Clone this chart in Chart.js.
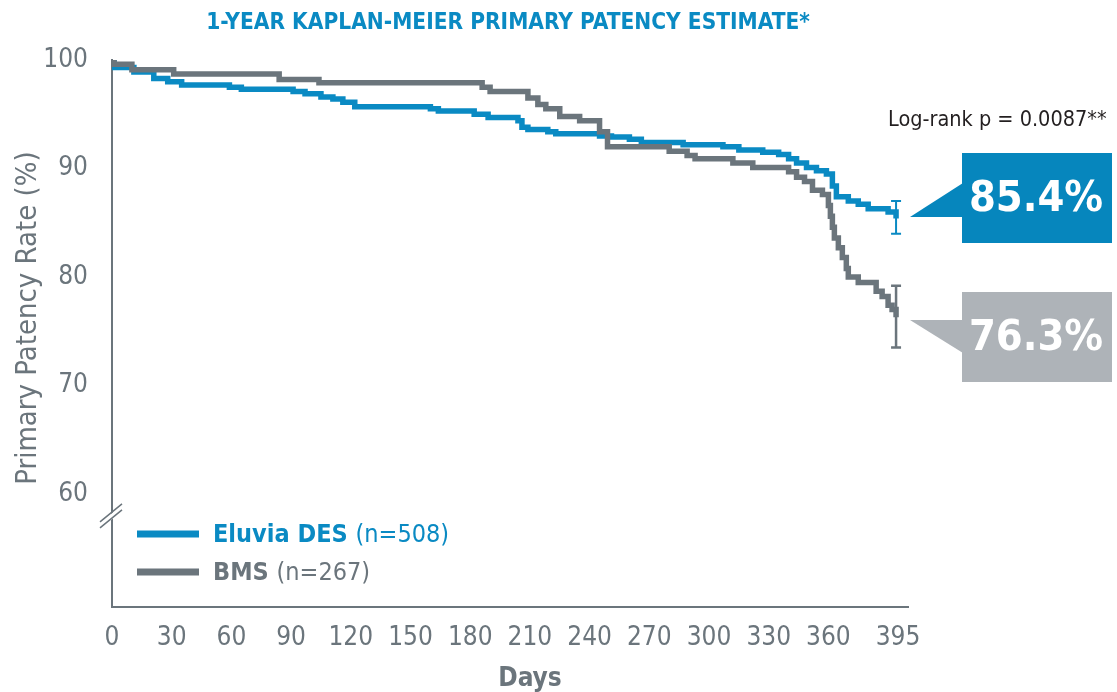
<!DOCTYPE html>
<html>
<head>
<meta charset="utf-8">
<script src="https://cdn.jsdelivr.net/npm/chart.js@4/dist/chart.umd.min.js"></script>
<style>
  html, body { margin: 0; padding: 0; background: #fff; }
  #wrap { width: 1117px; height: 692px; }
</style>
</head>
<body>
<div id="wrap"><canvas id="kmChart" width="1117" height="692"></canvas></div>
<script>
// Kaplan-Meier steps: day of drop and patency after the drop
const eluviaDays = [0, 1, 11, 21, 28, 35, 59, 65, 91, 97, 105, 111, 116, 122, 160, 164, 182, 189, 204, 206, 209, 219, 223, 245, 251, 260, 266, 287, 307, 315, 327, 335, 340, 344, 349, 354, 359, 362, 364, 370, 375, 380, 390, 394];
const eluviaRate = [100, 99.3, 98.9, 98.3, 98.0, 97.7, 97.5, 97.3, 97.1, 96.9, 96.6, 96.4, 96.1, 95.7, 95.5, 95.3, 95.0, 94.7, 94.4, 93.8, 93.6, 93.4, 93.2, 93.0, 92.9, 92.7, 92.4, 92.2, 92.0, 91.7, 91.5, 91.3, 90.9, 90.5, 90.1, 89.8, 89.5, 88.4, 87.4, 87.0, 86.7, 86.3, 86.0, 85.4];

const bmsDays = [0, 1, 10, 31, 84, 104, 186, 190, 209, 214, 218, 225, 235, 245, 249, 280, 289, 293, 312, 322, 340, 344, 348, 352, 357, 360, 361, 362, 363, 365, 367, 369, 370, 375, 384, 387, 390, 392, 394];
const bmsRate = [100, 99.6, 99.1, 98.7, 98.2, 97.9, 97.5, 97.1, 96.5, 95.9, 95.5, 94.8, 94.4, 93.4, 92.0, 91.6, 91.2, 90.9, 90.5, 90.1, 89.7, 89.2, 88.8, 88.0, 87.6, 86.6, 85.6, 84.6, 83.6, 82.7, 81.8, 80.8, 80.0, 79.5, 78.7, 78.2, 77.4, 77.0, 76.3];

const xTicks = [0, 30, 60, 90, 120, 150, 180, 210, 240, 270, 300, 330, 360, 395];
const yTicks = [60, 70, 80, 90, 100];

// 1-year estimate with confidence interval
const ciDay = 394;
const eluviaCI = [84.0, 87.0];
const bmsCI = [73.5, 79.2];
const finalLabels = ['85.4%', '76.3%'];

const seriesNames = ['Eluvia DES', 'BMS'];
const seriesN = ['(n=508)', '(n=267)'];

const BLUE = '#0a8ac3';
const GRAY = '#6b757c';
const BOX_BLUE = '#0686bd';
const BOX_GRAY = '#aeb3b8';
const FONT = "'Liberation Sans Narrow', 'DejaVu Sans Condensed', sans-serif";

const toXY = (days, rate) => days.map((d, i) => ({ x: d, y: rate[i] }));

const extras = {
  id: 'extras',
  afterDraw(chart) {
    const ctx = chart.ctx;
    const xs = chart.scales.x, ys = chart.scales.y;
    ctx.save();

    // title
    ctx.fillStyle = BLUE;
    ctx.font = 'bold 22.5px ' + FONT;
    ctx.textAlign = 'center';
    ctx.textBaseline = 'middle';
    ctx.fillText('1-YEAR KAPLAN-MEIER PRIMARY PATENCY ESTIMATE*', 508, 23);

    // y axis title
    ctx.save();
    ctx.translate(28, 318);
    ctx.rotate(-Math.PI / 2);
    ctx.fillStyle = GRAY;
    ctx.font = '29px ' + FONT;
    ctx.fillText('Primary Patency Rate (%)', 0, 0);
    ctx.restore();

    // x axis title
    ctx.fillStyle = GRAY;
    ctx.font = 'bold 26px ' + FONT;
    ctx.fillText('Days', 530, 679);

    // axis break
    const bx = xs.left, by = ys.getPixelForValue(57.9);
    ctx.fillStyle = '#fff';
    ctx.beginPath();
    ctx.moveTo(bx - 12, by + 6); ctx.lineTo(bx + 10, by - 12);
    ctx.lineTo(bx + 10, by - 6); ctx.lineTo(bx - 12, by + 12);
    ctx.closePath(); ctx.fill();
    ctx.strokeStyle = GRAY; ctx.lineWidth = 1.5;
    ctx.beginPath();
    ctx.moveTo(bx - 12, by + 5); ctx.lineTo(bx + 10, by - 13);
    ctx.moveTo(bx - 12, by + 11); ctx.lineTo(bx + 10, by - 7);
    ctx.stroke();

    // confidence interval bars
    const ci = (range, color, w) => {
      const px = xs.getPixelForValue(ciDay);
      const y1 = ys.getPixelForValue(range[0]), y2 = ys.getPixelForValue(range[1]);
      ctx.strokeStyle = color; ctx.lineWidth = w;
      ctx.beginPath();
      ctx.moveTo(px, y1); ctx.lineTo(px, y2);
      ctx.moveTo(px - 5, y1); ctx.lineTo(px + 5, y1);
      ctx.moveTo(px - 5, y2); ctx.lineTo(px + 5, y2);
      ctx.stroke();
    };
    ci(eluviaCI, BLUE, 2);
    ci(bmsCI, GRAY, 2.5);

    // log-rank
    ctx.fillStyle = '#231f20';
    ctx.font = '21.5px ' + FONT;
    ctx.textAlign = 'left';
    ctx.fillText('Log-rank p = 0.0087**', 888, 120);

    // callout boxes
    const callout = (color, top, tri, text) => {
      ctx.fillStyle = color;
      ctx.fillRect(962, top, 150, 90);
      ctx.beginPath();
      ctx.moveTo(tri[0][0], tri[0][1]);
      ctx.lineTo(tri[1][0], tri[1][1]);
      ctx.lineTo(tri[2][0], tri[2][1]);
      ctx.closePath(); ctx.fill();
      ctx.fillStyle = '#fff';
      ctx.font = 'bold 43px ' + FONT;
      ctx.textAlign = 'center';
      ctx.fillText(text, 1036, top + 47);
    };
    callout(BOX_BLUE, 153, [[910, 217], [963, 183], [963, 217]], finalLabels[0]);
    callout(BOX_GRAY, 292, [[910, 320], [963, 320], [963, 353]], finalLabels[1]);

    // legend
    const colors = [BLUE, GRAY];
    [534, 572].forEach((ly, i) => {
      ctx.strokeStyle = colors[i]; ctx.lineWidth = 7;
      ctx.beginPath(); ctx.moveTo(137, ly); ctx.lineTo(199, ly); ctx.stroke();
      ctx.fillStyle = colors[i];
      ctx.textAlign = 'left';
      ctx.font = 'bold 25px ' + FONT;
      ctx.fillText(seriesNames[i], 213, ly + 1);
      const w = ctx.measureText(seriesNames[i] + ' ').width;
      ctx.font = '25px ' + FONT;
      ctx.fillText(seriesN[i], 213 + w, ly + 1);
    });

    ctx.restore();
  }
};

new Chart(document.getElementById('kmChart'), {
  type: 'line',
  data: {
    datasets: [
      { label: seriesNames[1], data: toXY(bmsDays, bmsRate), borderColor: GRAY, order: 0 },
      { label: seriesNames[0], data: toXY(eluviaDays, eluviaRate), borderColor: BLUE, order: 1 }
    ]
  },
  options: {
    responsive: false,
    animation: false,
    layout: { padding: { top: 60, right: 209, left: 0, bottom: 0 } },
    elements: {
      line: { borderWidth: 5.5, stepped: true, tension: 0, fill: false },
      point: { radius: 0 }
    },
    plugins: { legend: { display: false }, tooltip: { enabled: false } },
    scales: {
      x: {
        type: 'linear', min: 0, max: 400,
        afterBuildTicks: s => { s.ticks = xTicks.map(v => ({ value: v })); },
        afterFit: s => { s.height = 85; },
        grid: { display: false, drawTicks: false },
        border: { color: GRAY, width: 2 },
        ticks: { color: GRAY, font: { family: FONT, size: 26 }, padding: 16, maxRotation: 0, autoSkip: false }
      },
      y: {
        type: 'linear', min: 49.6, max: 100,
        afterBuildTicks: s => { s.ticks = yTicks.map(v => ({ value: v })); },
        afterFit: s => { s.width = 112; },
        grid: { display: false, drawTicks: false },
        border: { color: GRAY, width: 2 },
        ticks: { color: GRAY, font: { family: FONT, size: 26 }, padding: 24 }
      }
    }
  },
  plugins: [extras]
});
</script>
</body>
</html>
